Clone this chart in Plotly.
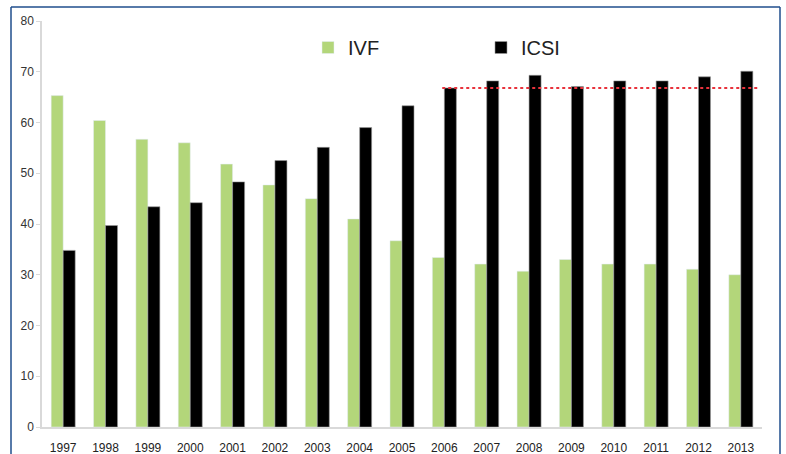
import plotly.graph_objects as go

years = ["1997", "1998", "1999", "2000", "2001", "2002", "2003", "2004", "2005",
         "2006", "2007", "2008", "2009", "2010", "2011", "2012", "2013"]
ivf = [65.3, 60.4, 56.7, 56.0, 51.8, 47.7, 45.0, 41.0, 36.7,
       33.4, 32.1, 30.7, 33.0, 32.1, 32.1, 31.1, 30.0]
icsi = [34.8, 39.7, 43.4, 44.2, 48.3, 52.5, 55.1, 59.0, 63.3,
        66.8, 68.2, 69.3, 67.1, 68.2, 68.2, 69.0, 70.1]
ref_level = 66.8
ref_start, ref_end = 8.95, 16.4

W, H = 786, 454
L, R, T, B = 42, 24, 21, 27

fig = go.Figure()
fig.add_trace(go.Bar(x=years, y=ivf, name="IVF", marker=dict(color="#b3d67a")))
fig.add_trace(go.Bar(x=years, y=icsi, name="ICSI",
                     marker=dict(color="#000000", line=dict(color="#9a9a9a", width=0.6))))

fig.add_shape(type="line", xref="x", yref="y", x0=ref_start, x1=ref_end,
              y0=ref_level, y1=ref_level,
              line=dict(color="#e8323c", width=2, dash="dot"))

pw = W - L - R
ph = H - T - B
def px2x(px):
    return (px - L) / pw
def py2y(py):
    return (H - B - py) / ph

frame = dict(color="#1f4e8c", width=1.5)
fx0, fx1, fy0, fy1 = px2x(11), px2x(780), py2y(460), py2y(7)
fig.add_shape(type="line", xref="paper", yref="paper",
              x0=fx0, x1=fx1, y0=fy1, y1=fy1, line=frame)
fig.add_shape(type="line", xref="paper", yref="paper",
              x0=fx0, x1=fx0, y0=fy0, y1=fy1, line=frame)
fig.add_shape(type="line", xref="paper", yref="paper",
              x0=fx1, x1=fx1, y0=fy0, y1=fy1, line=frame)

fig.update_layout(
    width=W, height=H,
    margin=dict(l=L, r=R, t=T, b=B, autoexpand=False),
    paper_bgcolor="white", plot_bgcolor="white",
    barmode="group", bargap=0.433, bargroupgap=0,
    font=dict(family="Liberation Sans, Arial, sans-serif", color="#333333"),
    showlegend=True,
    legend=dict(orientation="h", x=px2x(308), xanchor="left",
                y=py2y(47.5), yanchor="middle",
                entrywidth=128, entrywidthmode="pixels",
                font=dict(size=20, color="#222222"),
                bgcolor="rgba(0,0,0,0)", traceorder="normal"),
    xaxis=dict(type="category", showgrid=False, showline=True, automargin=False,
               linecolor="#d9d9d9", linewidth=1.5, ticks="",
               tickfont=dict(size=12, color="#222222"), ticklabelstandoff=9),
    yaxis=dict(range=[0, 80], tickvals=[0, 10, 20, 30, 40, 50, 60, 70, 80],
               showgrid=False, zeroline=False, showline=True, automargin=False,
               linecolor="#d9d9d9", linewidth=1.5,
               ticks="outside", ticklen=4, tickcolor="#d9d9d9",
               tickfont=dict(size=12, color="#333333")),
)

fig.write_html("out.html", config={"displayModeBar": False},
               post_script="document.body.style.margin='0';"
                           "document.body.style.overflow='hidden';")
